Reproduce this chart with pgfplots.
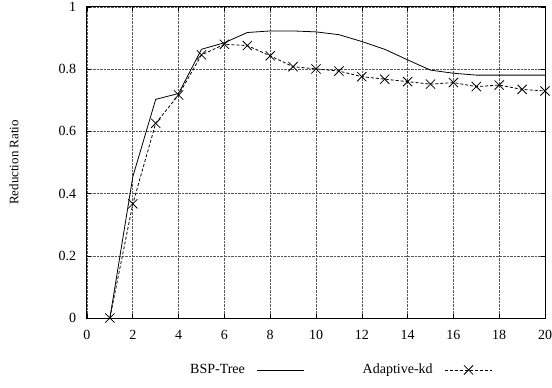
\documentclass[border=0pt]{standalone}
\usepackage{fontspec}
\setmainfont{Liberation Serif}
\usepackage{pgfplots}
\pgfplotsset{compat=1.18}
\begin{document}
\fontsize{14bp}{16bp}\selectfont
\begin{tikzpicture}
\useasboundingbox (-87bp,-70bp) rectangle (465bp,318bp);
\begin{axis}[
  at={(0,0)}, anchor=south west,
  scale only axis, width=458bp, height=311bp,
  xmin=0, xmax=20, ymin=0, ymax=1,
  xtick={0,2,...,20}, ytick={0,0.2,0.4,0.6,0.8,1},
  yticklabels={0,0.2,0.4,0.6,0.8,1},
  grid=major, major grid style={densely dotted, black!65, line width=0.6bp},
  tick align=inside, major tick length=4bp, tick pos=both,
  tick style={black, line width=0.6bp},
  axis line style={line width=1bp},
  /pgf/number format/assume math mode=true,
  font=\fontsize{14bp}{16bp}\selectfont,
  xticklabel style={yshift=-7bp},
  yticklabel style={xshift=-6bp},
  ylabel={Reduction Ratio},
  ylabel style={at={(axis description cs:-0.1594,0.5)}, anchor=center, font=\fontsize{13bp}{15bp}\selectfont},
  legend columns=2,
  legend plot pos=right,
  legend image code/.code={\draw[mark repeat=2,mark phase=2] plot coordinates {(0bp,0bp)(23.5bp,0bp)(47bp,0bp)};},
  legend style={at={(axis description cs:0.214,-0.167)}, anchor=west, draw=none, fill=none,
    /tikz/every odd column/.append style={column sep=10bp},
    /tikz/every even column/.append style={column sep=56bp},
    font=\fontsize{14bp}{16bp}\selectfont},
]
\addplot[black, line width=0.8bp, mark=none] coordinates {
(1,0) (2,0.454) (3,0.703) (4,0.722) (5,0.864) (6,0.885) (7,0.918) (8,0.923) (9,0.923) (10,0.920)
(11,0.911) (12,0.889) (13,0.864) (14,0.830) (15,0.797) (16,0.787) (17,0.781) (18,0.781) (19,0.781) (20,0.781)};
\addlegendentry{BSP-Tree}
\addplot[black, line width=0.8bp, dash pattern=on 3bp off 2bp, mark=x, mark size=6.5bp, mark options={solid, line width=0.8bp}] coordinates {
(1,0) (2,0.367) (3,0.626) (4,0.717) (5,0.846) (6,0.880) (7,0.876) (8,0.843) (9,0.808) (10,0.801)
(11,0.794) (12,0.776) (13,0.768) (14,0.760) (15,0.752) (16,0.757) (17,0.744) (18,0.749) (19,0.735) (20,0.730)};
\addlegendentry{Adaptive-kd}
\end{axis}
\end{tikzpicture}
\end{document}
